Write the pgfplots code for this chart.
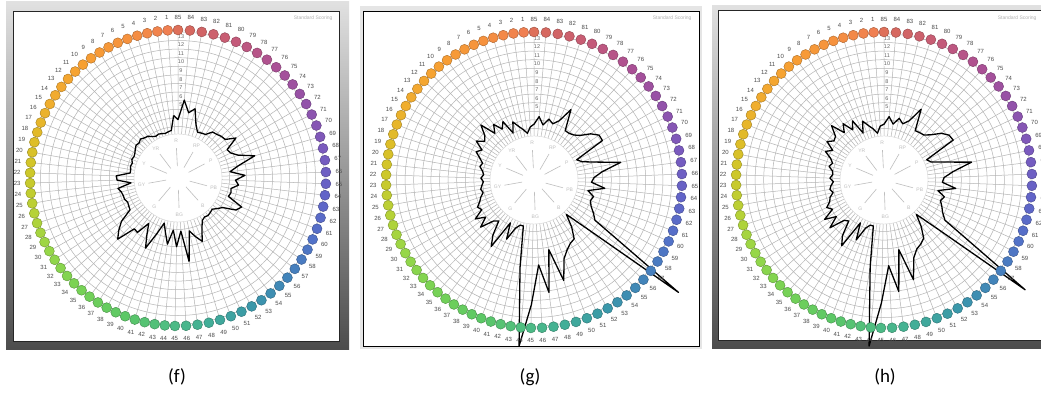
\documentclass[border=0pt]{standalone}
\usepackage{fontspec}
\setmainfont{Liberation Sans}
\newfontfamily\capfont{Carlito}
\usepackage{pgfplots}
\pgfplotsset{compat=1.18}
\usepackage{pgfplotstable}

\definecolor{gridc}{RGB}{180,180,180}
\definecolor{huec}{RGB}{190,190,190}

% angular position (degrees) of cap #1 on the score sheet
\pgfmathdeclarefunction{capang}{1}{%
  \pgfmathparse{(#1<=22.5)*(90+4*#1)+(#1>22.5)*(#1<=45.3)*(180+(#1-22.5)*3.947)+(#1>45.3)*(#1<=65.5)*(270+(#1-45.3)*4.455)+(#1>65.5)*(360+(#1-65.5)*4.615)}}

\pgfplotstableread{
c ring
1 148
2 148
3 148
4 148
5 148
6 148
7 148
8 148
9 148
10 148
11 148
12 148
13 148
14 148
15 148
16 148
17 148
18 148
19 148
20 148
21 148
22 148
23 148
24 148
25 148
26 148
27 148
28 148
29 148
30 148
31 148
32 148
33 148
34 148
35 148
36 148
37 148
38 148
39 148
40 148
41 148
42 148
43 148
44 148
45 148
46 148
47 148
48 148
49 148
50 148
51 148
52 148
53 148
54 148
55 148
56 148
57 148
58 148
59 148
60 148
61 148
62 148
63 148
64 148
65 148
66 148
67 148
68 148
69 148
70 148
71 148
72 148
73 148
74 148
75 148
76 148
77 148
78 148
79 148
80 148
81 148
82 148
83 148
84 148
85 148
}\capstab

\pgfplotstableread{
c v
1 3.8
2 2.1
3 2.0
4 1.9
5 2.0
6 2.1
7 2.0
8 2.2
9 2.5
10 2.6
11 2.8
12 2.6
13 2.7
14 2.5
15 2.3
16 2.2
17 2.3
18 2.1
19 2.2
20 2.1
21 2.1
22 3.7
23 3.6
24 2.0
25 3.6
26 3.3
27 3.2
28 3.2
29 3.0
30 3.1
31 3.2
32 4.8
33 5.7
34 6.5
35 4.3
36 4.4
37 2.8
38 4.0
39 5.5
40 3.5
41 2.0
42 3.0
43 4.3
44 2.6
45 4.5
46 2.7
47 6.3
48 2.8
49 3.6
50 4.4
51 3.0
52 2.2
53 2.0
54 2.1
55 2.0
56 1.9
57 2.3
58 2.75
59 4.2
60 4.65
61 2.75
62 2.9
63 2.8
64 3.6
65 3.2
66 4.3
67 2.6
68 3.7
69 5.8
70 4.0
71 3.3
72 3.1
73 4.7
74 3.6
75 3.5
76 3.3
77 3.2
78 2.5
79 2.4
80 2.3
81 3.1
82 4.8
83 4.2
84 5.6
85 3.3
1 3.8
}\dataf

\pgfplotstableread{
c v
1 2.7
2 2.0
3 2.5
4 3.0
5 3.7
6 2.5
7 4.2
8 3.5
9 4.5
10 3.6
11 5.4
12 4.2
13 3.8
14 4.6
15 3.5
16 4.0
17 3.3
18 2.8
19 3.0
20 2.6
21 2.4
22 2.7
23 2.4
24 2.6
25 2.8
26 2.6
27 3.0
28 3.3
29 3.8
30 3.5
31 4.7
32 3.6
33 4.8
34 3.2
35 2.8
36 4.5
37 5.7
38 2.2
39 4.1
40 2.5
41 2.0
42 2.0
43 6.8
44 15.9
45 11.0
46 6.4
47 9.7
48 4.8
49 8.7
50 6.3
51 5.5
52 5.0
53 4.8
54 3.5
55 2.0
56 5.1
57 17.8
58 5.0
59 4.4
60 3.8
61 3.5
62 3.7
63 2.9
64 4.8
65 3.2
66 3.5
67 4.5
68 6.8
69 4.0
70 2.5
71 2.0
72 5.7
73 5.7
74 5.0
75 4.0
76 3.5
77 3.3
78 3.3
79 5.75
80 4.0
81 3.4
82 3.8
83 3.0
84 3.9
85 3.0
1 2.7
}\datag

\pgfplotstableread{
c v
1 2.8
2 2.0
3 2.6
4 3.1
5 3.8
6 2.5
7 4.3
8 3.4
9 4.6
10 3.7
11 5.3
12 4.1
13 3.9
14 4.5
15 3.4
16 4.1
17 3.2
18 2.8
19 3.1
20 2.6
21 2.5
22 2.8
23 2.4
24 2.7
25 2.9
26 2.6
27 3.1
28 3.3
29 3.9
30 3.4
31 4.8
32 3.5
33 4.9
34 3.1
35 2.8
36 4.6
37 5.6
38 2.2
39 4.2
40 2.5
41 2.0
42 2.0
43 6.7
44 15.9
45 10.8
46 6.5
47 9.6
48 4.8
49 8.6
50 6.2
51 5.4
52 5.1
53 4.7
54 3.4
55 2.0
56 5.0
57 17.3
58 5.0
59 4.3
60 3.9
61 3.5
62 3.8
63 2.9
64 4.9
65 3.3
66 3.5
67 4.6
68 6.9
69 4.0
70 2.4
71 2.0
72 5.8
73 5.7
74 5.1
75 4.1
76 3.5
77 3.4
78 3.3
79 5.8
80 4.0
81 3.4
82 3.9
83 3.1
84 3.9
85 3.0
1 2.8
}\datah

\pgfplotsset{
  fm/.style={x=1pt,y=1pt,xmin=-180,xmax=180,ymin=-180,ymax=180,
    hide axis,clip=false,anchor=center,
    /pgf/number format/assume math mode=true,
    colormap={fmc}{rgb255(1)=(240,128,82) rgb255(5)=(246,146,62) rgb255(10)=(247,160,50)
      rgb255(15)=(240,174,46) rgb255(19)=(222,190,40) rgb255(22)=(205,200,42)
      rgb255(26)=(182,210,55) rgb255(30)=(150,215,72) rgb255(35)=(118,210,86)
      rgb255(40)=(92,200,102) rgb255(44)=(80,190,128) rgb255(48)=(66,174,152)
      rgb255(52)=(58,152,170) rgb255(56)=(66,132,186) rgb255(60)=(82,114,200)
      rgb255(64)=(98,100,200) rgb255(68)=(122,90,190) rgb255(72)=(146,82,170)
      rgb255(76)=(170,80,150) rgb255(80)=(196,90,122) rgb255(84)=(214,104,96)
      rgb255(85)=(222,112,90)},
    point meta min=1,point meta max=85},
}

\newcommand{\hue}[2]{%
  \draw[huec,line width=0.6pt] (axis cs:{12*cos(#1)},{12*sin(#1)}) -- (axis cs:{30*cos(#1)},{30*sin(#1)});
  \node[text=huec,font=\fontsize{5}{5}\selectfont,inner sep=0pt] at (axis cs:{37*cos(#1)},{37*sin(#1)}) {#2};}

\newcommand{\fmback}{%
  \pgfplotsinvokeforeach{1,...,85}{%
    \draw[gridc,line width=0.5pt] (axis cs:{44*cos(capang(##1))},{44*sin(capang(##1))}) -- (axis cs:{146*cos(capang(##1))},{146*sin(capang(##1))});}
  \pgfplotsinvokeforeach{2,...,13}{%
    \draw[gridc,line width=0.5pt] (axis cs:0,0) circle[radius={34.3+8.6*##1}];}
  \fill[white] (axis cs:0,0) circle[radius=44];
  \draw[gridc!60,line width=0.4pt] (axis cs:0,0) circle[radius=44];
  \hue{93}{R}\hue{60}{RP}\hue{28}{P}\hue{-15}{PB}\hue{-48}{B}
  \hue{-88}{BG}\hue{-130}{G}\hue{-170}{GY}\hue{157}{Y}\hue{127}{YR}
  \pgfplotsinvokeforeach{5,...,13}{%
    \node[font=\fontsize{5.5}{6}\selectfont,text=black!60,fill=white,inner sep=0.3pt] at (axis cs:3,{30+8.6*##1}) {##1};}
}

\newcommand{\fmfront}[1]{%
  \addplot[scatter,only marks,mark=*,mark size=5pt,point meta=\thisrow{c},
    scatter/use mapped color={draw=mapped color!70!black,fill=mapped color}]
    table[x expr={\thisrow{ring}*cos(capang(\thisrow{c}))},y expr={\thisrow{ring}*sin(capang(\thisrow{c}))}] {\capstab};
  \addplot[black,line width=1.3pt,line join=round,mark=none]
    table[x expr={(30+8.6*\thisrow{v})*cos(capang(\thisrow{c}))},y expr={(30+8.6*\thisrow{v})*sin(capang(\thisrow{c}))}] {#1};
  \addplot[draw=none,mark=none,nodes near coords,point meta=\thisrow{c},
    nodes near coords align={center},
    every node near coord/.append style={anchor=center,inner sep=0pt,text=black!70,font=\fontsize{6}{6}\selectfont}]
    table[x expr={(\thisrow{ring}+13)*cos(capang(\thisrow{c}))},y expr={(\thisrow{ring}+13)*sin(capang(\thisrow{c}))}] {\capstab};
}

\begin{document}
\begin{tikzpicture}
\useasboundingbox (0pt,0pt) rectangle (1041pt,394pt);
\clip (0pt,0pt) rectangle (1041pt,394pt);
% panel frames
\shade[top color=black!12,bottom color=black!70] (6pt,45pt) rectangle (349pt,392pt);
\fill[white] (13pt,53pt) rectangle (339pt,383pt);
\draw[black!85,line width=0.8pt] (13pt,53pt) rectangle (339pt,383pt);
\fill[black!10] (360pt,45pt) rectangle (702pt,388pt);
\fill[white] (363pt,48pt) rectangle (699pt,383pt);
\draw[black,line width=0.8pt] (363pt,48pt) rectangle (699pt,383pt);
\shade[top color=black!12,bottom color=black!70] (712pt,46pt) rectangle (1045pt,388pt);
\fill[white] (718pt,54pt) rectangle (1045pt,384pt);
\draw[black!85,line width=0.8pt] (718pt,54pt) rectangle (1045pt,384pt);
% standard scoring labels
\node[text=black!30,font=\fontsize{5}{5}\selectfont,anchor=east] at (336pt,376pt) {Standard Scoring};
\node[text=black!30,font=\fontsize{5}{5}\selectfont,anchor=east] at (695pt,376pt) {Standard Scoring};
\node[text=black!30,font=\fontsize{5}{5}\selectfont,anchor=east] at (1040pt,376pt) {Standard Scoring};

\begin{axis}[fm,at={(178pt,216pt)}]
  \fmback
  \fmfront{\dataf}
\end{axis}
\begin{axis}[fm,at={(534pt,214pt)}]
  \fmback
  \fmfront{\datag}
\end{axis}
\begin{axis}[fm,at={(884pt,214pt)}]
  \fmback
  \fmfront{\datah}
\end{axis}

\node[font=\capfont\fontsize{19}{22}\selectfont] at (177pt,17pt) {(f)};
\node[font=\capfont\fontsize{19}{22}\selectfont] at (530pt,17pt) {(g)};
\node[font=\capfont\fontsize{19}{22}\selectfont] at (885pt,17pt) {(h)};
\end{tikzpicture}
\end{document}
